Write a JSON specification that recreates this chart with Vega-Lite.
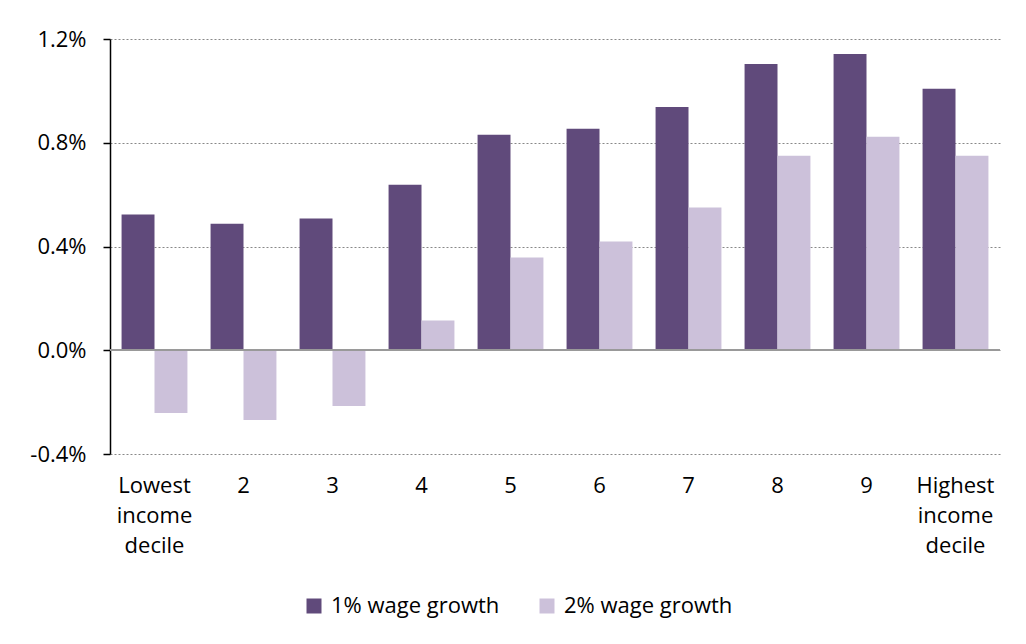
{
  "$schema": "https://vega.github.io/schema/vega-lite/v6.json",
  "autosize": "none",
  "width": 890,
  "height": 415,
  "padding": {"left": 110, "top": 39, "right": 26, "bottom": 190},
  "background": "white",
  "config": {
    "font": "Open Sans",
    "view": {"stroke": null}
  },
  "data": {
    "values": [
      {"decile": "Lowest|income|decile", "series": "1% wage growth", "value": 0.00523},
      {"decile": "Lowest|income|decile", "series": "2% wage growth", "value": -0.00242},
      {"decile": "2", "series": "1% wage growth", "value": 0.00488},
      {"decile": "2", "series": "2% wage growth", "value": -0.00269},
      {"decile": "3", "series": "1% wage growth", "value": 0.00508},
      {"decile": "3", "series": "2% wage growth", "value": -0.00215},
      {"decile": "4", "series": "1% wage growth", "value": 0.00638},
      {"decile": "4", "series": "2% wage growth", "value": 0.00115},
      {"decile": "5", "series": "1% wage growth", "value": 0.00831},
      {"decile": "5", "series": "2% wage growth", "value": 0.00358},
      {"decile": "6", "series": "1% wage growth", "value": 0.00854},
      {"decile": "6", "series": "2% wage growth", "value": 0.00419},
      {"decile": "7", "series": "1% wage growth", "value": 0.00938},
      {"decile": "7", "series": "2% wage growth", "value": 0.0055},
      {"decile": "8", "series": "1% wage growth", "value": 0.01104},
      {"decile": "8", "series": "2% wage growth", "value": 0.0075},
      {"decile": "9", "series": "1% wage growth", "value": 0.01142},
      {"decile": "9", "series": "2% wage growth", "value": 0.00823},
      {"decile": "Highest|income|decile", "series": "1% wage growth", "value": 0.01008},
      {"decile": "Highest|income|decile", "series": "2% wage growth", "value": 0.0075}
    ]
  },
  "layer": [
    {
      "mark": {"type": "bar"},
      "encoding": {
        "x": {
          "field": "decile",
          "type": "nominal",
          "sort": null,
          "scale": {"paddingInner": 0.26, "paddingOuter": 0.13},
          "axis": {
            "title": null,
            "domain": false,
            "ticks": false,
            "labelAngle": 0,
            "labelExpr": "split(datum.value, '|')",
            "labelFontSize": 22,
            "labelColor": "#000000",
            "labelPadding": 21,
            "labelLineHeight": 30,
            "labelBaseline": "top"
          }
        },
        "xOffset": {"field": "series", "type": "nominal", "sort": ["1% wage growth", "2% wage growth"]},
        "y": {
          "field": "value",
          "type": "quantitative",
          "scale": {"domain": [-0.004, 0.012], "nice": false},
          "axis": {
            "title": null,
            "values": [-0.004, 0, 0.004, 0.008, 0.012],
            "format": ".1%",
            "labelExpr": "replace(datum.label, '\u2212', '-')",
            "labelFontSize": 22,
            "labelColor": "#000000",
            "labelPadding": 17,
            "domainColor": "#000000",
            "domainWidth": 1.5,
            "tickColor": "#000000",
            "tickSize": 7,
            "tickWidth": 1.5,
            "gridColor": "#888888",
            "gridDash": [2, 2],
            "gridWidth": 1
          }
        },
        "color": {
          "field": "series",
          "type": "nominal",
          "scale": {"domain": ["1% wage growth", "2% wage growth"], "range": ["#604A7B", "#CCC1DA"]},
          "legend": {
            "title": null,
            "orient": "none",
            "direction": "horizontal",
            "legendX": 193,
            "legendY": 556,
            "symbolType": "square",
            "symbolSize": 225,
            "symbolStrokeWidth": 0,
            "labelFontSize": 22,
            "labelLimit": 400,
            "labelColor": "#000000",
            "columnPadding": 36,
            "labelOffset": 6
          }
        }
      }
    },
    {
      "mark": {"type": "rule", "color": "#999999", "strokeWidth": 1.5},
      "encoding": {"y": {"datum": 0}}
    }
  ]
}
